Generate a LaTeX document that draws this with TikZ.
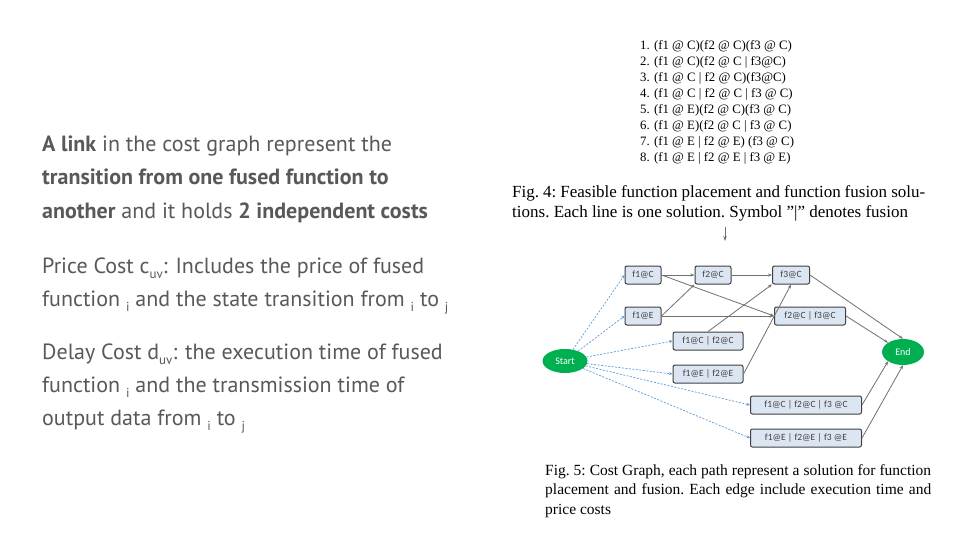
\documentclass[tikz,border=0pt]{standalone}
\usepackage{fontspec}
\setmainfont{Liberation Serif}
\newfontfamily\slidefont{PT Sans}
\newfontfamily\nodefont{Carlito}
\usetikzlibrary{arrows.meta,shapes.geometric}
\definecolor{slidegray}{HTML}{595959}
\definecolor{boxblue}{HTML}{DCE6F2}
\definecolor{boxborder}{HTML}{404040}
\definecolor{termgreen}{HTML}{00B050}
\definecolor{dashblue}{HTML}{5B9BD5}
\definecolor{edgegray}{HTML}{707070}
\tikzset{
  fn/.style={draw=boxborder, line width=1pt, fill=boxblue, rounded corners=2pt,
    minimum height=18pt, inner sep=0pt, text=black!75,
    font=\nodefont\fontsize{9.5}{10}\selectfont},
  term/.style={ellipse, fill=termgreen, draw=none, text=white, inner sep=0pt,
    font=\nodefont\fontsize{10}{11}\selectfont},
  gedge/.style={draw=edgegray, line width=0.8pt, -{Stealth[length=4pt,width=3pt]}},
  bedge/.style={draw=dashblue, line width=0.7pt, dash pattern=on 2pt off 1.5pt, -{Stealth[length=3.5pt,width=3pt]}},
  lline/.style={anchor=base west, inner sep=0pt, text=slidegray, font=\slidefont\fontsize{22}{26}\selectfont},
  listline/.style={anchor=base west, inner sep=0pt, font=\fontsize{12.8}{14}\selectfont}
}
\newcommand{\lowsub}[1]{\raisebox{-5pt}{\fontsize{13}{13}\selectfont #1}}
\begin{document}
\begin{tikzpicture}[x=1pt,y=-1pt]
\useasboundingbox (0,0) rectangle (960,540);
\fill[white] (0,0) rectangle (960,540);
% left text
\node[lline] (l1) at (42,152) {\textbf{A link} in the cost graph represent the};
\node[lline] (l2) at (42,185) {\textbf{transition from one fused function to}};
\node[lline] (l3) at (42,218) {\textbf{another} and it holds \textbf{2 independent costs}};
\node[lline] (l4) at (42,273) {Price Cost c\lowsub{uv}: Includes the price of fused};
\node[lline] (l5) at (42,306) {function \lowsub{i} and the state transition from \lowsub{i} to \lowsub{j}};
\node[lline] (l6) at (42,359) {Delay Cost d\lowsub{uv}: the execution time of fused};
\node[lline] (l7) at (42,392) {function \lowsub{i} and the transmission time of};
\node[lline] (l8) at (42,425) {output data from \lowsub{i} to \lowsub{j}};
% list
\node[listline] (s1) at (640,50) {1. (f1 @ C)(f2 @ C)(f3 @ C)};
\node[listline] (s2) at (640,66) {2. (f1 @ C)(f2 @ C | f3@C)};
\node[listline] (s3) at (640,82) {3. (f1 @ C | f2 @ C)(f3@C)};
\node[listline] (s4) at (640,98) {4. (f1 @ C | f2 @ C | f3 @ C)};
\node[listline] (s5) at (640,114) {5. (f1 @ E)(f2 @ C)(f3 @ C)};
\node[listline] (s6) at (640,130) {6. (f1 @ E)(f2 @ C | f3 @ C)};
\node[listline] (s7) at (640,146) {7. (f1 @ E | f2 @ E) (f3 @ C)};
\node[listline] (s8) at (640,162) {8. (f1 @ E | f2 @ E | f3 @ E)};
% caption fig 4
\node[anchor=north west, inner sep=0pt, text width=413pt, align=justify,
  font=\frenchspacing\fontsize{17}{20}\selectfont] (cap4) at (512,185)
  {Fig. 4: Feasible function placement and function fusion solu-\linebreak tions. Each line is one solution. Symbol ''|'' denotes fusion};
\coordinate (a1) at (725,227);
\coordinate (a2) at (725,241);
\draw[edgegray, line width=0.8pt, -{Stealth[length=5pt,width=3.5pt]}] (a1) -- (a2);
% graph nodes
\node[fn, minimum width=36pt] (f1c) at (643,275) {f1@C};
\node[fn, minimum width=36pt] (f2c) at (713,275) {f2@C};
\node[fn, minimum width=37pt] (f3c) at (791,275) {f3@C};
\node[fn, minimum width=36pt] (f1e) at (643,316) {f1@E};
\node[fn, minimum width=71pt] (f23c) at (810,316) {f2@C | f3@C};
\node[fn, minimum width=70pt] (f12c) at (708,341) {f1@C | f2@C};
\node[fn, minimum width=70pt] (f12e) at (708,374) {f1@E | f2@E};
\node[fn, minimum width=111pt] (f123c) at (806,405) {f1@C | f2@C | f3 @C};
\node[fn, minimum width=111pt] (f123e) at (806,438) {f1@E | f2@E | f3 @E};
\node[term, minimum width=45pt, minimum height=24pt] (start) at (565,361) {Start};
\node[term, minimum width=42pt, minimum height=26pt] (end) at (903,352) {End};
% blue dashed edges
\draw[bedge] (start) -- (f1c.west);
\draw[bedge] (start) -- (f1e.west);
\draw[bedge] (start) -- (f12c.west);
\draw[bedge] (start) -- (f12e.west);
\draw[bedge] (start) -- (f123c.west);
\draw[bedge] (start) -- (f123e.west);
% gray edges
\draw[gedge] (f1c.east) -- (f2c.west);
\draw[gedge] (f1c.east) -- (f23c.west);
\draw[gedge] (f1e.east) -- (f2c.south west);
\draw[gedge] (f1e.east) -- (f23c.west);
\draw[gedge] (f2c.east) -- (f3c.west);
\draw[gedge] (f12c.north) -- (f3c.south west);
\draw[gedge] (f12e.east) -- (f3c.south);
\draw[gedge] (f3c.east) -- (end.north);
\draw[gedge] (f23c.east) -- (end.north west);
\draw[gedge] (f123c.east) -- (end.south west);
\draw[gedge] (f123e.east) -- (end.south);
% caption fig 5
\node[anchor=north west, inner sep=0pt, text width=386pt, align=justify,
  font=\frenchspacing\fontsize{15.5}{19.5}\selectfont] (cap5) at (545,464)
  {Fig. 5: Cost Graph, each path represent a solution for function\linebreak placement and fusion. Each edge include execution time and\linebreak price costs};
\end{tikzpicture}
\end{document}
